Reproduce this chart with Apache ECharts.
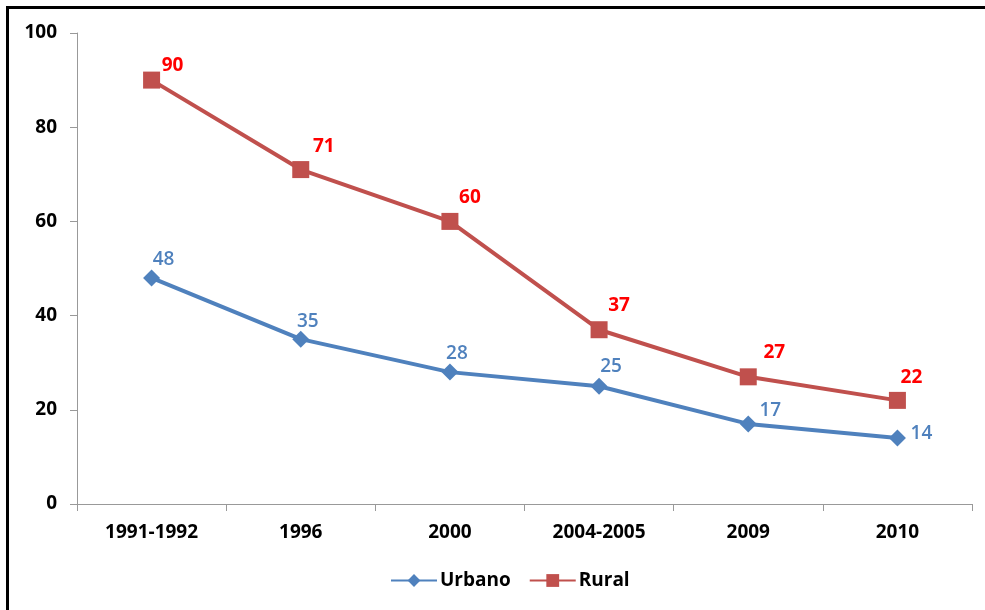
<!DOCTYPE html>
<html><head><meta charset="utf-8">
<script src="https://cdn.jsdelivr.net/npm/echarts@6/dist/echarts.min.js"></script>
<style>html,body{margin:0;padding:0;background:#fff}#c{width:985px;height:610px}</style>
</head><body><div id="c"></div>
<script>
var categories = ['1991-1992','1996','2000','2004-2005','2009','2010'];
var urbano = [48, 35, 28, 25, 17, 14];
var rural = [90, 71, 60, 37, 27, 22];
var urbanoLabelOffsets = [[12,-18],[7,-18],[7,-19],[12,-20],[22,-13],[24,-4]];
var ruralLabelOffsets = [[21,-15],[23,-23],[20,-24],[20,-24],[26,-24],[14,-23]];

var font = '"Open Sans", "DejaVu Sans", sans-serif';
function mk(vals, offs){
  return vals.map(function(v,i){ return {value:v, label:{offset:offs[i]}}; });
}
var chart = echarts.init(document.getElementById('c'));
chart.setOption({
  animation:false,
  backgroundColor:'#fff',
  graphic:[{type:'rect', shape:{x:7.5,y:7.5,width:1100,height:700}, style:{fill:'none', stroke:'#000', lineWidth:3}, z:100}],
  grid:{left:77, right:13, top:33, bottom:106},
  legend:{top:566, left:385, itemWidth:46, itemHeight:16, itemGap:18,
    textStyle:{fontFamily:font, fontWeight:'bold', fontSize:19, color:'#000', padding:[0,0,0,-2]},
    data:['Urbano','Rural']},
  xAxis:{type:'category', data:categories, boundaryGap:true,
    axisLine:{lineStyle:{color:'#999'}},
    axisTick:{show:true, length:7, lineStyle:{color:'#999'}},
    axisLabel:{fontFamily:font, fontWeight:'bold', fontSize:19, color:'#000', margin:19}},
  yAxis:{type:'value', min:0, max:100, interval:20,
    axisLine:{show:true, lineStyle:{color:'#999'}},
    axisTick:{show:true, length:7, lineStyle:{color:'#999'}},
    splitLine:{show:false},
    axisLabel:{fontFamily:font, fontWeight:'bold', fontSize:19, color:'#000', margin:20}},
  series:[
    {name:'Urbano', type:'line', data:mk(urbano, urbanoLabelOffsets), symbol:'diamond', symbolSize:17,
      itemStyle:{color:'#4F81BD'}, lineStyle:{color:'#4F81BD', width:4},
      label:{show:true, position:'inside', color:'#4F81BD', fontFamily:font, fontWeight:600, fontSize:19}},
    {name:'Rural', type:'line', data:mk(rural, ruralLabelOffsets), symbol:'rect', symbolSize:17,
      itemStyle:{color:'#C0504D'}, lineStyle:{color:'#C0504D', width:4},
      label:{show:true, position:'inside', color:'#FF0000', fontFamily:font, fontWeight:'bold', fontSize:19}}
  ]
});
</script></body></html>
